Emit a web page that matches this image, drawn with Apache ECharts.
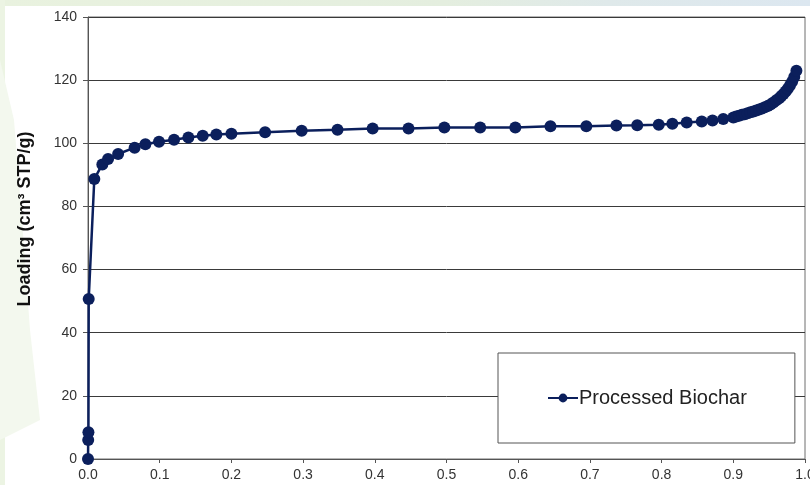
<!DOCTYPE html>
<html>
<head>
<meta charset="utf-8">
<script src="https://cdn.jsdelivr.net/npm/echarts@6/dist/echarts.min.js"></script>
<style>
  html, body { margin: 0; padding: 0; background: #ffffff; }
  #chart { width: 810px; height: 485px; }
</style>
</head>
<body>
<div id="chart"></div>
<script>
// Relative pressure (P/P0)
var pressure = [0, 0.0003, 0.0006, 0.001, 0.0088, 0.020, 0.028, 0.042, 0.065, 0.080,
  0.099, 0.120, 0.140, 0.160, 0.179, 0.200, 0.247, 0.298, 0.348, 0.397,
  0.447, 0.497, 0.547, 0.596, 0.645, 0.695, 0.737, 0.766, 0.796, 0.815,
  0.835, 0.856, 0.871, 0.886, 0.900, 0.904, 0.908, 0.912, 0.916, 0.920,
  0.924, 0.928, 0.932, 0.936, 0.940, 0.944, 0.948, 0.952, 0.956, 0.960,
  0.964, 0.967, 0.970, 0.973, 0.976, 0.979, 0.982, 0.985, 0.988];
// Loading (cm3 STP/g)
var loading = [0, 6.0, 8.5, 50.7, 88.7, 93.3, 95.0, 96.6, 98.6, 99.7,
  100.5, 101.1, 101.8, 102.4, 102.8, 103.0, 103.5, 104.0, 104.3, 104.7,
  104.7, 105.0, 105.0, 105.0, 105.4, 105.4, 105.6, 105.7, 105.9, 106.2,
  106.6, 106.9, 107.2, 107.7, 108.2, 108.5, 108.7, 109.0, 109.2, 109.5,
  109.8, 110.1, 110.4, 110.7, 111.0, 111.4, 111.8, 112.3, 112.9, 113.6,
  114.3, 115.0, 115.6, 116.4, 117.3, 118.3, 119.5, 121.0, 123.0];
var seriesName = 'Processed Biochar';
var yAxisTitle = 'Loading (cm\u00B3 STP/g)';

var points = pressure.map(function (p, i) { return [p, loading[i]]; });

var chart = echarts.init(document.getElementById('chart'), null, { renderer: 'canvas' });
var navy = '#0b1f5c';
chart.setOption({
  backgroundColor: '#ffffff',
  animation: false,
  grid: {
    left: 88, right: 5, top: 17, bottom: 26,
    outerBoundsMode: 'none',
    containLabel: false,
    show: true, borderColor: '#6e6e6e', borderWidth: 1, backgroundColor: 'transparent'
  },
  graphic: [
    {
      type: 'rect', z: -10, silent: true,
      shape: { x: 0, y: 0, width: 810, height: 6 },
      style: {
        fill: new echarts.graphic.LinearGradient(0, 0, 1, 0, [
          { offset: 0, color: '#e9f2df' },
          { offset: 0.55, color: '#e4eedf' },
          { offset: 0.75, color: '#dfe9ea' },
          { offset: 1, color: '#dce7f0' }
        ])
      }
    },
    {
      type: 'rect', z: -10, silent: true,
      shape: { x: 0, y: 0, width: 5, height: 485 },
      style: { fill: '#ecf4e3' }
    },
    {
      type: 'polygon', z: -10, silent: true,
      shape: { points: [[0, 60], [14, 120], [22, 220], [30, 330], [40, 420], [0, 440]] },
      style: { fill: '#f3f8ee' }
    },
    {
      type: 'text', silent: true,
      x: 25, y: 219, rotation: Math.PI / 2,
      style: {
        text: yAxisTitle,
        font: 'bold 18px Arial, "Liberation Sans", sans-serif',
        fill: '#111111',
        align: 'center',
        verticalAlign: 'middle'
      }
    }
  ],
  legend: {
    show: true,
    left: 498, top: 353,
    padding: [35, 48, 35, 49],
    backgroundColor: '#ffffff',
    borderColor: '#555555', borderWidth: 1,
    itemWidth: 30, itemHeight: 11,
    data: [seriesName],
    textStyle: { fontFamily: 'Arial, "Liberation Sans", sans-serif', fontSize: 20, color: '#222222', padding: [0, 0, 0, -4] }
  },
  xAxis: {
    type: 'value',
    min: 0, max: 1, interval: 0.1,
    axisLine: { show: true, onZero: false, lineStyle: { color: '#555555', width: 1 } },
    axisTick: { show: true, inside: false, length: 4, lineStyle: { color: '#555555' } },
    splitLine: { show: false },
    axisLabel: {
      margin: 9,
      hideOverlap: false,
      fontFamily: 'Arial, "Liberation Sans", sans-serif', fontSize: 14, color: '#333333',
      formatter: function (v) { return v.toFixed(1); }
    }
  },
  yAxis: {
    type: 'value',
    min: 0, max: 140, interval: 20,
    axisLine: { show: true, lineStyle: { color: '#555555', width: 1 } },
    axisTick: { show: true, inside: false, length: 5, lineStyle: { color: '#555555' } },
    splitLine: { show: true, lineStyle: { color: '#3a3a3a', width: 1 } },
    axisLabel: {
      margin: 11,
      fontFamily: 'Arial, "Liberation Sans", sans-serif', fontSize: 14, color: '#333333'
    }
  },
  series: [{
    name: seriesName,
    type: 'line',
    data: points,
    symbol: 'circle',
    symbolSize: 12,
    showAllSymbol: true,
    clip: false,
    itemStyle: { color: navy },
    lineStyle: { color: navy, width: 2.5 },
    z: 5
  }]
});
</script>
</body>
</html>
